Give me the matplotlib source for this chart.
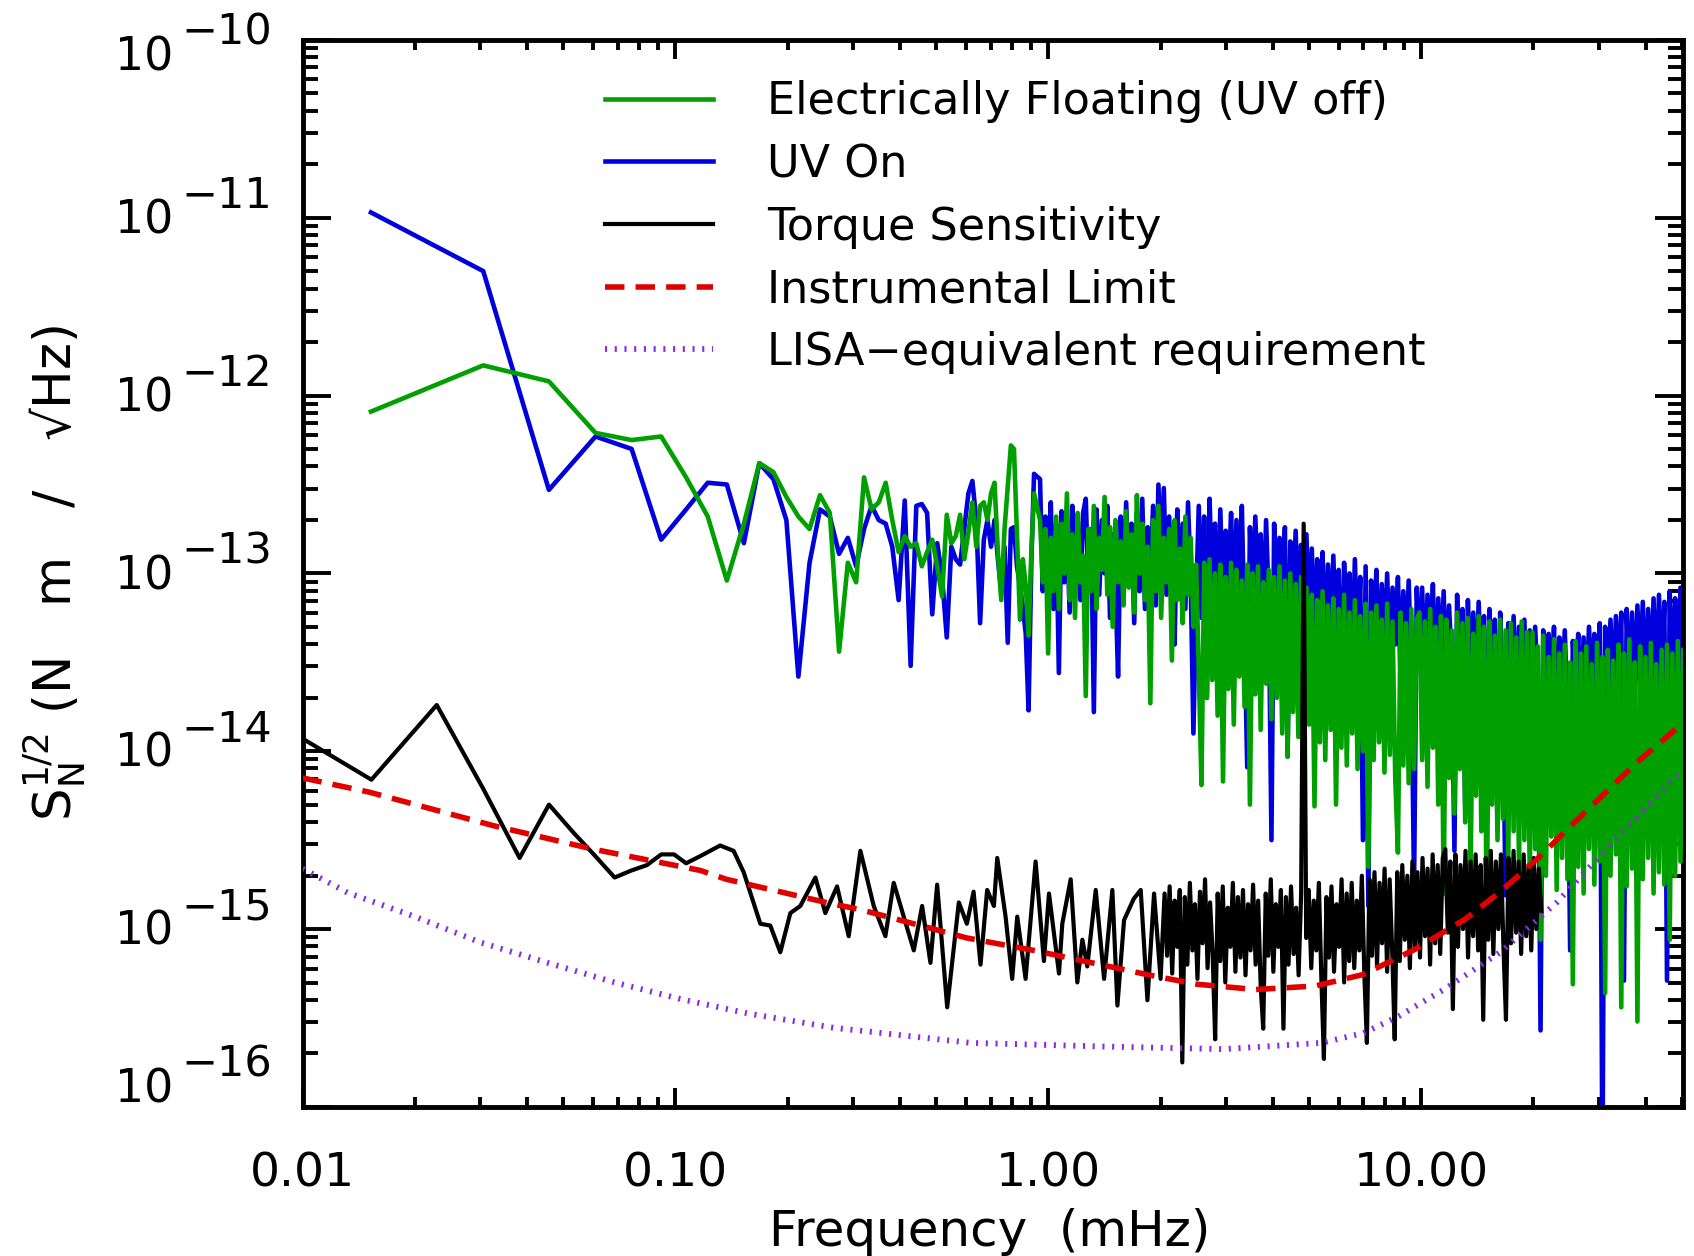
import numpy as np
import matplotlib
matplotlib.use("Agg")
import matplotlib.pyplot as plt
from matplotlib.ticker import LogLocator, NullFormatter

plt.rcParams['font.family'] = ['DejaVu Sans']
plt.rcParams['mathtext.fontset'] = 'dejavusans'
plt.rcParams['lines.scale_dashes'] = False

# all amplitudes are log10 of S_N^1/2 in N m / sqrt(Hz)

# first FFT bins of the UV runs, bin width in mHz
df_uv = 0.01526
uv_off_low = [-12.09, -11.83, -11.92, -12.21, -12.25, -12.23, -12.46, -12.68, -13.04, -12.72,
              -12.38, -12.43, -12.57, -12.68, -12.75, -12.56, -12.66, -13.44, -12.94, -13.05,
              -12.46, -12.64, -12.60, -12.49, -12.70, -12.88, -12.79, -12.85, -12.83, -12.96,
              -12.88, -12.81, -12.96, -13.13, -12.67, -12.83, -12.79, -12.67, -12.92, -12.77,
              -12.60, -12.85, -12.62, -12.60, -12.70, -12.55, -12.49, -12.88, -13.15, -12.75,
              -12.51, -12.28, -12.30, -12.79, -13.26, -12.92, -13.07, -13.35, -12.88, -12.55]
uv_on_low = [-10.97, -11.30, -12.53, -12.23, -12.30, -12.81, -12.64, -12.49, -12.50, -12.83,
             -12.38, -12.47, -12.70, -13.58, -12.94, -12.64, -12.68, -12.89, -12.80, -12.96,
             -12.75, -12.62, -12.70, -12.72, -12.85, -13.15, -12.59, -13.52, -12.62, -12.61,
             -12.66, -13.23, -12.83, -13.02, -13.36, -12.85, -12.92, -12.95, -12.75, -12.55,
             -12.48, -12.70, -13.28, -12.81, -12.70, -12.85, -12.70, -12.92, -13.11, -12.85,
             -13.39, -12.75, -12.74, -12.96, -13.07, -13.19, -13.34, -13.77, -12.94, -12.44]

# dense part above ~1 mHz, sampled on a log grid
dense_uv_start, dense_uv_stop = 0.95, 50.4
uv_off_dense = [
    -12.70, -13.05, -12.75, -13.45, -12.80, -13.10, -12.68, -13.20, -12.72, -13.00,
    -12.55, -13.15, -12.78, -13.25, -12.66, -13.05, -12.90, -13.69, -12.75, -13.10,
    -12.62, -13.20, -12.80, -12.98, -12.57, -13.12, -12.74, -13.30, -12.70, -13.05,
    -12.82, -13.18, -12.65, -13.08, -12.78, -13.22, -12.56, -13.00, -12.72, -13.15,
    -12.85, -13.73, -12.70, -13.10, -12.62, -13.25, -12.80, -13.05, -12.75, -13.49,
    -12.70, -13.15, -12.86, -13.28, -12.68, -13.12, -12.80, -13.30, -12.95, -13.55,
    -14.19, -12.94, -13.70, -12.92, -13.60, -13.00, -13.80, -12.95, -14.17, -13.02,
    -13.65, -12.94, -13.85, -12.98, -13.58, -13.04, -13.75, -12.95, -14.30, -13.00,
    -13.68, -12.96, -13.88, -13.05, -13.62, -12.98, -13.82, -13.02, -13.70, -12.96,
    -13.90, -13.04, -14.03, -13.00, -13.78, -13.06, -13.92, -13.02, -13.80, -13.08,
    -13.85, -13.12, -14.31, -13.15, -13.95, -13.10, -14.05, -13.18, -13.88, -13.14,
    -14.30, -13.20, -13.98, -13.12, -14.08, -13.22, -13.90, -13.15, -14.10, -13.24,
    -14.00, -13.17, -14.65, -13.22, -14.05, -13.18, -13.95, -13.26, -14.12, -13.17,
    -14.02, -13.27, -14.15, -14.57, -13.22, -14.08, -13.28, -14.18, -13.20, -14.10,
    -13.26, -13.22, -14.05, -13.27, -14.20, -13.20, -13.98, -13.30, -14.30, -13.24,
    -14.80, -13.26, -14.15, -13.32, -14.35, -13.22, -14.10, -13.28, -14.40, -13.25,
    -14.70, -13.34, -14.25, -13.24, -14.45, -13.30, -14.94, -13.27, -14.30, -13.35,
    -14.50, -13.26, -14.38, -13.32, -14.60, -13.28, -14.45, -13.36, -14.65, -13.27,
    -14.50, -13.33, -14.72, -13.33, -14.55, -13.41, -15.06, -13.35, -14.70, -13.47,
    -14.48, -13.37, -14.78, -13.45, -14.60, -13.40, -14.72, -13.50, -15.31, -13.38,
    -14.65, -13.45, -14.80, -13.41, -14.55, -13.51, -14.75, -13.39, -14.62, -13.47,
    -15.36, -13.43, -14.70, -13.49, -14.58, -13.40, -15.44, -13.45, -14.76, -13.37,
    -14.66, -13.50, -15.52, -13.41, -14.72, -13.47, -14.60, -13.39, -14.80, -13.51,
    -14.68, -13.43, -14.75, -13.40, -15.06, -13.45, -14.70, -13.38, -14.62, -13.43]
uv_on_dense = [
    -12.47, -13.10, -12.68, -12.95, -12.60, -13.20, -12.72, -13.56, -12.65, -13.05,
    -12.74, -13.22, -12.62, -12.98, -12.70, -13.15, -12.66, -12.58, -13.08, -12.75,
    -13.78, -12.64, -13.12, -12.70, -13.00, -12.62, -13.25, -12.78, -13.05, -13.58,
    -12.68, -13.15, -12.60, -13.02, -12.72, -13.28, -12.66, -13.10, -12.58, -13.20,
    -12.74, -13.05, -12.62, -13.18, -12.50, -13.00, -12.52, -13.12, -12.68, -13.25,
    -13.40, -12.64, -13.10, -12.72, -13.20, -12.60, -13.05, -13.90, -13.15, -12.62,
    -13.25, -12.68, -13.70, -12.58, -13.10, -12.72, -13.30, -12.64, -13.18, -12.76,
    -13.05, -12.66, -13.28, -12.70, -13.12, -12.62, -13.35, -14.09, -12.74, -13.20,
    -12.68, -13.08, -12.78, -13.32, -12.70, -13.15, -14.50, -12.72, -13.25, -12.80,
    -13.10, -12.74, -14.03, -12.82, -13.20, -12.76, -13.30, -12.84, -13.15, -12.78,
    -13.30, -12.86, -13.40, -12.92, -13.25, -12.88, -13.50, -12.95, -13.35, -12.90,
    -13.45, -12.98, -13.80, -12.94, -13.38, -13.00, -13.55, -12.92, -13.42, -13.02,
    -14.50, -12.96, -14.87, -13.04, -13.36, -12.98, -13.58, -13.06, -13.44, -13.00,
    -13.52, -13.08, -13.40, -13.02, -13.60, -13.10, -13.46, -13.04, -13.55, -14.76,
    -13.08, -13.50, -13.08, -13.62, -13.12, -13.48, -13.06, -13.70, -13.14, -13.55,
    -13.10, -13.66, -13.18, -13.52, -14.56, -13.12, -13.74, -13.20, -14.31, -13.15,
    -13.60, -13.22, -13.70, -13.16, -13.58, -13.24, -14.40, -13.20, -13.64, -13.26,
    -14.44, -13.22, -13.72, -14.81, -13.28, -13.66, -13.24, -13.80, -13.30, -13.70,
    -13.26, -13.85, -13.32, -13.75, -13.30, -13.68, -15.57, -13.32, -13.80, -13.34,
    -13.62, -13.30, -13.86, -13.36, -13.70, -13.32, -13.78, -15.12, -13.38, -13.66,
    -13.34, -13.82, -13.36, -13.72, -13.30, -13.64, -13.34, -13.80, -13.28, -16.40,
    -13.30, -13.70, -13.26, -13.76, -13.24, -13.62, -13.22, -15.29, -13.20, -13.68,
    -13.22, -13.74, -13.18, -13.60, -13.16, -13.70, -13.20, -13.66, -13.14, -13.72,
    -13.12, -13.62, -13.16, -15.29, -13.10, -13.68, -13.14, -13.60, -13.08, -13.64]

# torque sensitivity, low part read point by point (mHz, log10 value)
torque_freq = [0.0076, 0.0153, 0.0229, 0.0305, 0.0382, 0.0458, 0.0534, 0.0610, 0.0687, 0.0763,
               0.0839, 0.0916, 0.0992, 0.1068, 0.1165, 0.1318, 0.1432, 0.1524, 0.1689, 0.1796,
               0.1911, 0.2033, 0.2162, 0.2373, 0.2523, 0.2713, 0.2915, 0.3133, 0.3402, 0.3656,
               0.3849, 0.4357, 0.4587, 0.4829, 0.5033, 0.5355, 0.5754, 0.6047, 0.6303, 0.6579,
               0.6855, 0.7145, 0.7295, 0.768, 0.800, 0.8253, 0.869, 0.9244, 0.973, 1.004,
               1.068, 1.090, 1.148, 1.196, 1.234, 1.272, 1.340, 1.411, 1.485, 1.532,
               1.596, 1.694, 1.769, 1.844, 1.921, 2.000]
torque_low = [-13.78, -14.16, -13.74, -14.21, -14.60, -14.30, -14.46, -14.59, -14.71, -14.67,
              -14.64, -14.58, -14.58, -14.63, -14.59, -14.53, -14.56, -14.68, -14.97, -14.98,
              -15.13, -14.91, -14.87, -14.71, -14.91, -14.76, -15.04, -14.56, -14.87, -15.04,
              -14.74, -15.12, -14.87, -15.19, -14.75, -15.44, -14.85, -14.97, -14.79, -15.20,
              -14.78, -14.87, -14.60, -14.93, -15.28, -14.93, -15.28, -14.62, -15.18, -14.80,
              -15.25, -14.97, -14.72, -15.30, -15.06, -15.21, -14.78, -15.28, -14.78, -15.43,
              -14.95, -14.83, -14.78, -15.40, -14.80, -15.28]
dense_torque_start, dense_torque_stop = 2.05, 21.0
torque_dense = [
    -14.80, -15.15, -14.76, -15.25, -14.84, -15.10, -14.78, -15.75, -14.82, -15.20,
    -14.74, -15.12, -14.86, -15.28, -14.79, -15.08, -14.72, -15.22, -14.85, -15.14,
    -15.62, -14.80, -15.18, -14.76, -15.30, -14.88, -15.10, -14.74, -15.24, -14.82,
    -15.16, -14.78, -15.26, -14.86, -15.12, -14.75, -15.20, -14.84, -15.32, -15.56,
    -14.80, -15.15, -14.72, -15.24, -14.86, -15.10, -14.78, -15.56, -14.82, -15.20,
    -14.76, -15.14, -14.88, -15.26, -14.80, -12.72, -15.05, -14.78, -15.22, -14.84,
    -15.12, -14.74, -15.28, -15.73, -14.82, -15.16, -14.76, -15.24, -14.86, -15.10,
    -14.72, -15.30, -14.80, -15.18, -14.74, -15.22, -14.84, -15.12, -14.70, -15.26,
    -15.64, -14.72, -15.15, -14.68, -15.20, -14.74, -15.08, -14.66, -15.24, -14.72,
    -15.12, -15.62, -14.68, -15.18, -14.64, -15.06, -14.70, -15.22, -14.62, -15.10,
    -14.68, -15.16, -14.60, -15.04, -14.66, -15.20, -14.58, -15.08, -14.64, -15.14,
    -14.60, -14.55, -15.02, -14.62, -15.45, -14.58, -15.10, -14.64, -15.00, -14.56,
    -15.16, -14.62, -15.04, -14.58, -15.12, -14.64, -15.51, -14.60, -15.06, -14.56,
    -15.14, -14.62, -15.00, -14.58, -15.10, -15.51, -14.60, -15.08, -14.56, -15.02,
    -14.62, -15.14, -14.58, -15.04, -14.64, -15.12, -14.60, -15.00, -14.66, -14.90]

limit_freq = [0.01, 0.0151, 0.0327, 0.06, 0.1165, 0.137, 0.2655, 0.313, 0.605, 0.914, 1.88,
              2.5, 3.6, 5.2, 7.0, 9.6, 13.1, 16.3, 21.1, 24.6, 38.0, 50.4]
limit_val = [-14.15, -14.23, -14.42, -14.55, -14.67, -14.72, -14.86, -14.89, -15.05, -15.12, -15.26,
             -15.31, -15.34, -15.32, -15.255, -15.115, -14.945, -14.79, -14.58, -14.44, -14.06, -13.84]

lisa_freq = [0.01, 0.0132, 0.02, 0.030, 0.0455, 0.0687, 0.104, 0.157, 0.2655, 0.62, 1.38,
             2.95, 5.4, 7.0, 8.7, 11.5, 16.3, 23.1, 33.0, 50.4]
lisa_val = [-14.66, -14.795, -14.93, -15.075, -15.19, -15.30, -15.395, -15.475, -15.555, -15.64, -15.66,
            -15.675, -15.64, -15.585, -15.49, -15.34, -15.13, -14.85, -14.50, -14.10]

labels = ['Electrically Floating (UV off)', 'UV On', 'Torque Sensitivity',
          'Instrumental Limit', 'LISA\u2212equivalent requirement']

# assemble series
f_uv = np.concatenate([df_uv * np.arange(1, len(uv_off_low) + 1),
                       np.geomspace(dense_uv_start, dense_uv_stop, len(uv_off_dense))])
s_off = 10 ** np.array(uv_off_low + uv_off_dense)
s_on = 10 ** np.array(uv_on_low + uv_on_dense)
f_tq = np.concatenate([torque_freq, np.geomspace(dense_torque_start, dense_torque_stop, len(torque_dense))])
s_tq = 10 ** np.array(torque_low + torque_dense)

fig = plt.figure(figsize=(16.94, 12.56), dpi=100)
ax = fig.add_axes([0.1786, 0.1187, 0.815, 0.8495])
ax.set_xscale('log')
ax.set_yscale('log')

l_on, = ax.plot(f_uv, s_on, color='#0000dd', lw=3.3, zorder=2)
l_off, = ax.plot(f_uv, s_off, color='#00a000', lw=3.3, zorder=3)
l_tq, = ax.plot(f_tq, s_tq, color='black', lw=3.0, zorder=4)
l_lim, = ax.plot(limit_freq, 10 ** np.array(limit_val), color='#e00000', lw=4.0,
                 dashes=(14, 8), dash_capstyle='butt', zorder=5)
l_lisa, = ax.plot(lisa_freq, 10 ** np.array(lisa_val), color='#8a2be2', lw=4.2,
                  dashes=(1.5, 5.5), dash_capstyle='butt', zorder=6)

ax.set_xlim(0.01, 50.4)
ax.set_ylim(1e-16, 1e-10)

for s in ax.spines.values():
    s.set_linewidth(3.5)

ax.set_xticks([0.01, 0.1, 1, 10])
ax.set_xticklabels(['0.01', '0.10', '1.00', '10.00'])
ax.xaxis.set_minor_locator(LogLocator(base=10, subs=np.arange(2, 10), numticks=20))
ax.xaxis.set_minor_formatter(NullFormatter())
ax.yaxis.set_major_locator(LogLocator(base=10, numticks=20))
ax.yaxis.set_minor_locator(LogLocator(base=10, subs=np.arange(2, 10), numticks=20))
ax.yaxis.set_major_formatter(NullFormatter())
ax.yaxis.set_minor_formatter(NullFormatter())

ax.tick_params(which='both', direction='in', top=True, right=True, width=2.8)
ax.tick_params(axis='x', which='major', length=14, pad=32, labelsize=34)
ax.tick_params(axis='x', which='minor', length=7)
ax.tick_params(axis='y', which='major', length=20)
ax.tick_params(axis='y', which='minor', length=11)

# y tick labels drawn as 10 with a full size exponent, IDL style
ytrans = ax.get_yaxis_transform()
for e in range(-10, -17, -1):
    shift = -0.018
    if e == -10:
        shift = -0.10
    if e == -16:
        shift = 0.097
    yb = 10.0 ** (e + shift)
    ax.text(-0.094, yb, '10', transform=ytrans, ha='right', va='center', fontsize=33)
    ax.text(-0.088, yb * 10 ** 0.14, '\u2212%d' % abs(e), transform=ytrans,
            ha='left', va='center', fontsize=31)

fig.text(0.584, 0.0194, 'Frequency  (mHz)', ha='center', va='center', fontsize=36)
fig.text(0.032, 0.544, r'$\mathrm{S}_\mathrm{N}^{1/2}$ (N   m   /   √Hz)', rotation=90,
         ha='center', va='center', fontsize=37)

ax.legend([l_off, l_on, l_tq, l_lim, l_lisa], labels, loc='upper left',
          bbox_to_anchor=(0.219, 0.962), frameon=False, fontsize=32,
          handlelength=2.43, handletextpad=1.22, labelspacing=0.44,
          borderpad=0, borderaxespad=0)

fig.savefig('out.png', dpi=100)
